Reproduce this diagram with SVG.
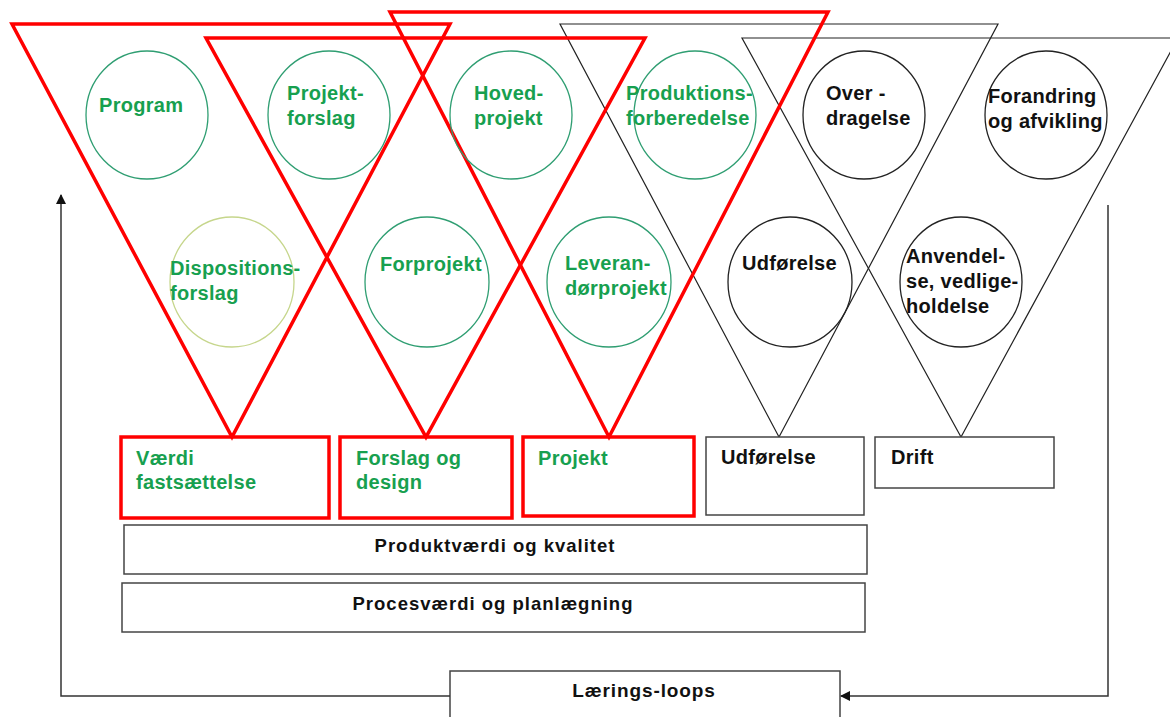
<svg xmlns="http://www.w3.org/2000/svg" width="1170" height="717" viewBox="0 0 1170 717">
<defs>
<style>
.redtri{fill:none;stroke:#ff0000;stroke-width:3.5;stroke-linejoin:miter}
.blktri{fill:none;stroke:#222;stroke-width:1.2}
.gc{fill:none;stroke:#2f9e72;stroke-width:1.3}
.bc{fill:none;stroke:#222;stroke-width:1.3}
.redbox{fill:none;stroke:#ff0000;stroke-width:3.5}
.blkbox{fill:#fff;stroke:#444;stroke-width:1.5}
.t{font-family:"Liberation Sans",Arial,sans-serif;font-weight:bold;font-size:20px;letter-spacing:0.3px}
.g{fill:#17a04f}
.k{fill:#111}
.conn{fill:none;stroke:#333;stroke-width:1.5}
</style>
<marker id="ah" markerWidth="10" markerHeight="10" refX="9" refY="5" orient="auto" markerUnits="userSpaceOnUse">
<path d="M0,0 L10,5 L0,10 z" fill="#111"/>
</marker>
</defs>
<rect width="1170" height="717" fill="#fff"/>

<g id="triangles-black">
<polygon class="blktri" points="560,24 998,24 779,437"/>
<polygon class="blktri" points="742,38 1178,38 961,437"/>
</g>
<g id="triangles-red">
<polygon class="redtri" points="12,24 450,24 232,437"/>
<polygon class="redtri" points="206,38 645,38 426,437"/>
<polygon class="redtri" points="390,12 828,12 609,437"/>
</g>

<g id="n-program"><ellipse class="gc" cx="147" cy="115" rx="61" ry="64"/><text class="t g" x="99" y="112">Program</text></g>
<g id="n-projektforslag"><ellipse class="gc" cx="329" cy="115" rx="61" ry="64"/><text class="t g" x="287" y="100">Projekt-</text><text class="t g" x="287" y="125">forslag</text></g>
<g id="n-hovedprojekt"><ellipse class="gc" cx="511" cy="115" rx="61" ry="64"/><text class="t g" x="474" y="100">Hoved-</text><text class="t g" x="474" y="125">projekt</text></g>
<g id="n-produktionsforberedelse"><ellipse class="gc" cx="695" cy="115" rx="61" ry="64"/><text class="t g" x="626" y="100">Produktions-</text><text class="t g" x="626" y="125">forberedelse</text></g>
<g id="n-overdragelse"><ellipse class="bc" cx="864" cy="115" rx="61" ry="64"/><text class="t k" x="826" y="100">Over -</text><text class="t k" x="826" y="125">dragelse</text></g>
<g id="n-forandring"><ellipse class="bc" cx="1046" cy="115" rx="61" ry="64"/><text class="t k" x="988" y="103">Forandring</text><text class="t k" x="988" y="128">og afvikling</text></g>

<g id="n-dispositionsforslag"><ellipse fill="none" stroke="#c6d68c" stroke-width="1.3" cx="232" cy="282" rx="62" ry="65"/><text class="t g" x="170" y="275">Dispositions-</text><text class="t g" x="170" y="300">forslag</text></g>
<g id="n-forprojekt"><ellipse class="gc" cx="427" cy="282" rx="62" ry="65"/><text class="t g" x="380" y="271">Forprojekt</text></g>
<g id="n-leverandorprojekt"><ellipse class="gc" cx="609" cy="282" rx="62" ry="65"/><text class="t g" x="565" y="270">Leveran-</text><text class="t g" x="565" y="295">dørprojekt</text></g>
<g id="n-udforelse-c"><ellipse class="bc" cx="790" cy="282" rx="62" ry="65"/><text class="t k" x="742" y="270">Udførelse</text></g>
<g id="n-anvendelse"><ellipse class="bc" cx="961" cy="282" rx="61" ry="65"/><text class="t k" x="906" y="263">Anvendel-</text><text class="t k" x="906" y="288">se, vedlige-</text><text class="t k" x="906" y="313">holdelse</text></g>

<g id="b-vaerdi"><rect class="redbox" x="121" y="437" width="208" height="81"/><text class="t g" x="136" y="465">Værdi</text><text class="t g" x="136" y="489">fastsættelse</text></g>
<g id="b-forslag"><rect class="redbox" x="340" y="437" width="172" height="81"/><text class="t g" x="356" y="465">Forslag og</text><text class="t g" x="356" y="489">design</text></g>
<g id="b-projekt"><rect class="redbox" x="523" y="437" width="171" height="79"/><text class="t g" x="538" y="465">Projekt</text></g>
<g id="b-udforelse"><rect class="blkbox" x="706" y="437" width="158" height="78"/><text class="t k" x="721" y="464">Udførelse</text></g>
<g id="b-drift"><rect class="blkbox" x="875" y="437" width="179" height="51"/><text class="t k" x="891" y="464">Drift</text></g>
<g id="b-produktvaerdi"><rect class="blkbox" x="124" y="525" width="743" height="49"/><text class="t k" x="495" y="552" text-anchor="middle" style="font-size:18.5px;letter-spacing:1px">Produktværdi og kvalitet</text></g>
<g id="b-procesvaerdi"><rect class="blkbox" x="122" y="583" width="743" height="49"/><text class="t k" x="493" y="610" text-anchor="middle" style="font-size:18.5px;letter-spacing:1px">Procesværdi og planlægning</text></g>
<g id="b-laerings"><rect class="blkbox" x="450" y="671" width="390" height="60"/><text class="t k" x="644" y="697" text-anchor="middle" style="font-size:19px;letter-spacing:0.9px">Lærings-loops</text></g>

<g id="connectors">
<path class="conn" d="M450,696 L61,696 L61,195" marker-end="url(#ah)"/>
<path class="conn" d="M1108,205 L1108,696 L841,696" marker-end="url(#ah)"/>
</g>
</svg>
